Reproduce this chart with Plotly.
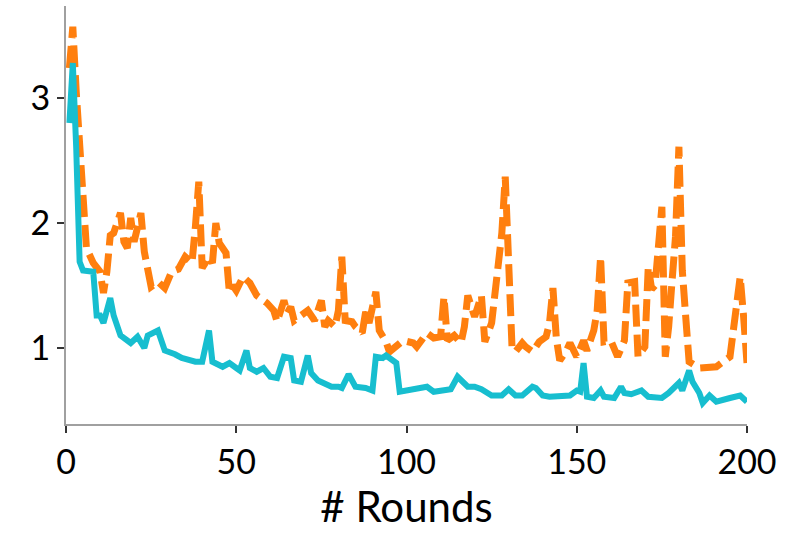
import plotly.graph_objects as go

# Training loss per communication round for two methods
cyan_rounds = [1, 2, 3, 4, 5, 8, 9, 10, 11, 13, 14, 16, 19, 21, 23, 24, 27, 29, 32, 34,
               38, 40, 42, 43, 46, 48, 50, 51, 53, 54, 56, 58, 60, 62, 64, 66, 67, 69, 71, 72,
               74, 76, 78, 80, 81, 83, 85, 88, 90, 91, 93, 94, 96, 97, 98, 100, 102, 106, 108, 111,
               113, 115, 116, 118, 120, 122, 125, 128, 130, 132, 134, 137, 138, 140, 142, 146, 148, 150, 151, 152,
               153, 155, 157, 158, 161, 163, 164, 166, 169, 171, 174, 175, 177, 179, 180, 181, 183, 184, 186, 187,
               189, 191, 193, 195, 198, 200]
cyan_loss = [2.8, 3.28, 2.6, 1.69, 1.62, 1.61, 1.26, 1.26, 1.2, 1.4, 1.26, 1.1, 1.04, 1.09, 1.0, 1.1, 1.14, 0.98, 0.95, 0.92,
             0.89, 0.89, 1.14, 0.89, 0.85, 0.88, 0.84, 0.82, 0.98, 0.84, 0.81, 0.84, 0.77, 0.76, 0.93, 0.92, 0.74, 0.73, 0.94, 0.8,
             0.74, 0.72, 0.69, 0.69, 0.68, 0.79, 0.69, 0.68, 0.66, 0.93, 0.92, 0.94, 0.89, 0.88, 0.65, 0.66, 0.66, 0.69, 0.65, 0.66,
             0.67, 0.77, 0.74, 0.69, 0.69, 0.67, 0.62, 0.62, 0.67, 0.62, 0.62, 0.69, 0.68, 0.62, 0.61, 0.61, 0.62, 0.66, 0.65, 0.88,
             0.61, 0.6, 0.66, 0.61, 0.6, 0.69, 0.64, 0.63, 0.66, 0.61, 0.61, 0.6, 0.64, 0.69, 0.72, 0.66, 0.82, 0.73, 0.64, 0.56,
             0.62, 0.57, 0.58, 0.6, 0.62, 0.57]

orange_rounds = [1, 2, 3, 5, 6, 8, 10, 11, 12, 13, 14, 16, 17, 18, 19, 20, 22, 23, 24, 25,
                 27, 29, 31, 33, 35, 37, 38, 39, 40, 42, 43, 44, 45, 47, 48, 49, 50, 52, 54, 56,
                 59, 61, 62, 64, 65, 66, 67, 70, 71, 73, 75, 76, 77, 79, 80, 81, 82, 84, 85, 87,
                 88, 89, 91, 92, 94, 95, 97, 99, 102, 103, 106, 108, 110, 111, 112, 114, 116, 117, 118, 120,
                 122, 123, 125, 126, 127, 128, 129, 130, 131, 132, 134, 135, 137, 139, 141, 142, 143, 144, 145, 147,
                 148, 150, 152, 153, 155, 156, 157, 158, 160, 162, 164, 165, 167, 168, 170, 171, 172, 173, 175, 176,
                 177, 178, 179, 180, 181, 182, 183, 186, 189, 191, 195, 196, 197, 198, 199, 200]
orange_loss = [3.24, 3.57, 3.05, 2.1, 1.8, 1.68, 1.61, 1.44, 1.61, 1.9, 1.92, 2.08, 1.85, 1.8, 2.04, 1.85, 2.08, 1.77, 1.61, 1.49,
               1.53, 1.48, 1.61, 1.63, 1.73, 1.68, 1.97, 2.33, 1.64, 1.73, 1.68, 2.0, 1.84, 1.76, 1.44, 1.5, 1.46, 1.57, 1.52, 1.42,
               1.36, 1.3, 1.21, 1.38, 1.28, 1.33, 1.22, 1.28, 1.3, 1.22, 1.38, 1.17, 1.22, 1.17, 1.3, 1.73, 1.22, 1.21, 1.17, 1.12,
               1.29, 1.2, 1.45, 1.14, 1.05, 0.97, 1.01, 1.06, 1.04, 1.01, 1.12, 1.08, 1.09, 1.41, 1.06, 1.1, 1.04, 1.17, 1.42, 1.25,
               1.42, 1.05, 1.2, 1.41, 1.66, 1.92, 2.37, 1.5, 1.0, 0.97, 1.04, 1.01, 0.97, 1.05, 1.09, 1.2, 1.48, 1.08, 0.9, 0.98,
               1.04, 0.93, 1.06, 0.98, 1.14, 1.3, 1.73, 1.05, 1.06, 0.93, 1.06, 1.52, 1.53, 0.93, 1.01, 1.65, 1.47, 1.5, 2.13, 0.93,
               1.17, 1.54, 1.89, 2.61, 1.62, 1.25, 0.89, 0.84, 0.84, 0.85, 0.93, 1.14, 1.41, 1.57, 1.25, 0.88]

x_ticks = [0, 50, 100, 150, 200]
y_ticks = [1, 2, 3]

fig = go.Figure()
fig.add_trace(go.Scatter(
    x=orange_rounds, y=orange_loss, mode="lines",
    line=dict(color="#ff7f0e", width=7, dash="22px,8px"),
    showlegend=False,
))
fig.add_trace(go.Scatter(
    x=cyan_rounds, y=cyan_loss, mode="lines",
    line=dict(color="#17becf", width=6),
    showlegend=False,
))

font_family = "Lato, Open Sans, sans-serif"
axis_font = dict(family=font_family, size=34, color="black")
fig.update_layout(
    width=795, height=534,
    margin=dict(l=66, r=48, t=6, b=110),
    paper_bgcolor="white", plot_bgcolor="white",
    xaxis=dict(
        range=[0, 200], tickvals=x_ticks, showgrid=False, zeroline=False,
        showline=True, linecolor="#a0a0a0", linewidth=2,
        ticks="outside", ticklen=7, tickwidth=1.5, tickcolor="#333",
        tickfont=axis_font,
        title=dict(text="# Rounds", font=dict(family=font_family, size=42, color="black"), standoff=8),
    ),
    yaxis=dict(
        range=[0.392, 3.736], tickvals=y_ticks, showgrid=False, zeroline=False,
        showline=True, linecolor="#a0a0a0", linewidth=2,
        ticks="outside", ticklen=7, tickwidth=1.5, tickcolor="#333",
        tickfont=axis_font,
    ),
)

fig.write_html("out.html")
